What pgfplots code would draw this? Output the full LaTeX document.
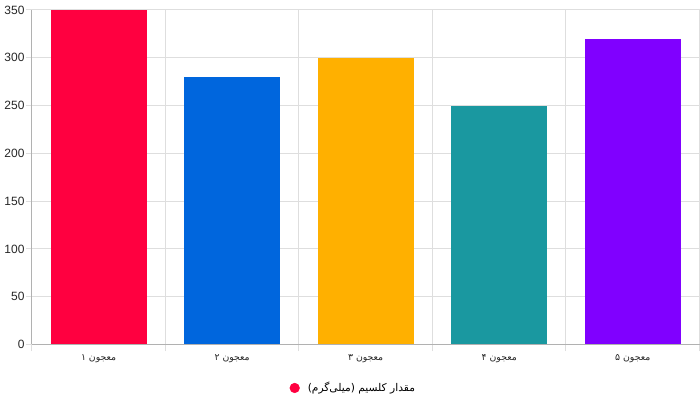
\documentclass[border=0pt]{standalone}
\usepackage{pgfplots}
\pgfplotsset{compat=1.18}
\usepackage{fontspec}
\setmainfont{Liberation Sans}
\newfontfamily\arabicfont[Script=Arabic]{DejaVu Sans}
\TeXXeTstate=1

\definecolor{cRed}{RGB}{255,0,64}
\definecolor{cBlue}{RGB}{0,102,221}
\definecolor{cOrange}{RGB}{255,176,0}
\definecolor{cTeal}{RGB}{26,152,160}
\definecolor{cPurple}{RGB}{128,0,255}
\definecolor{gridc}{RGB}{222,222,222}

\begin{document}
\begin{tikzpicture}
\begin{axis}[
  scale only axis,
  width=501pt, height=251pt,
  ymin=0, ymax=350,
  xmin=-0.5, xmax=4.5,
  ytick={0,50,...,350},
  xtick={0,1,2,3,4},
  xticklabels={
    {\arabicfont\beginR معجون ۱\endR},
    {\arabicfont\beginR معجون ۲\endR},
    {\arabicfont\beginR معجون ۳\endR},
    {\arabicfont\beginR معجون ۴\endR},
    {\arabicfont\beginR معجون ۵\endR}},
  minor xtick={-0.5,0.5,...,4.5},
  xminorgrids, ymajorgrids,
  major x tick style={draw=none},
  minor tick length=5pt,
  major tick length=4.5pt,
  tick align=outside,
  tick style={gridc, line width=0.75pt},
  grid style={gridc, line width=0.75pt},
  axis line style={gridc!80!black, line width=0.75pt},
  axis x line*=bottom, axis y line*=left,
  /pgf/number format/assume math mode=true,
  ticklabel style={font=\fontsize{9}{10}\selectfont, text=black!85},
  xticklabel style={font=\fontsize{7}{8}\selectfont, text=black!85, yshift=0.5pt},
  yticklabel style={xshift=2.5pt},
  ybar, bar width=0.72, bar shift=0pt,
  legend style={at={(0.482,-0.13)}, anchor=center, draw=none,
    font=\fontsize{8}{10}\selectfont, legend cell align=left},
  legend image code/.code={
    \draw[#1] (0.05cm,0cm) circle (3.6pt);
  },
]
\addplot[fill=cRed, draw=none, forget plot] coordinates {(0,350)};
\addplot[fill=cBlue, draw=none, forget plot] coordinates {(1,280)};
\addplot[fill=cOrange, draw=none, forget plot] coordinates {(2,300)};
\addplot[fill=cTeal, draw=none, forget plot] coordinates {(3,250)};
\addplot[fill=cPurple, draw=none, forget plot] coordinates {(4,320)};
\addlegendimage{fill=cRed, draw=cRed}
\addlegendentry{\hspace{4pt}\arabicfont\beginR مقدار کلسیم (میلی‌گرم)\endR}
\end{axis}
\path ([yshift=7.5pt]current axis.north) ([yshift=-43pt]current axis.south);
\end{tikzpicture}
\end{document}
